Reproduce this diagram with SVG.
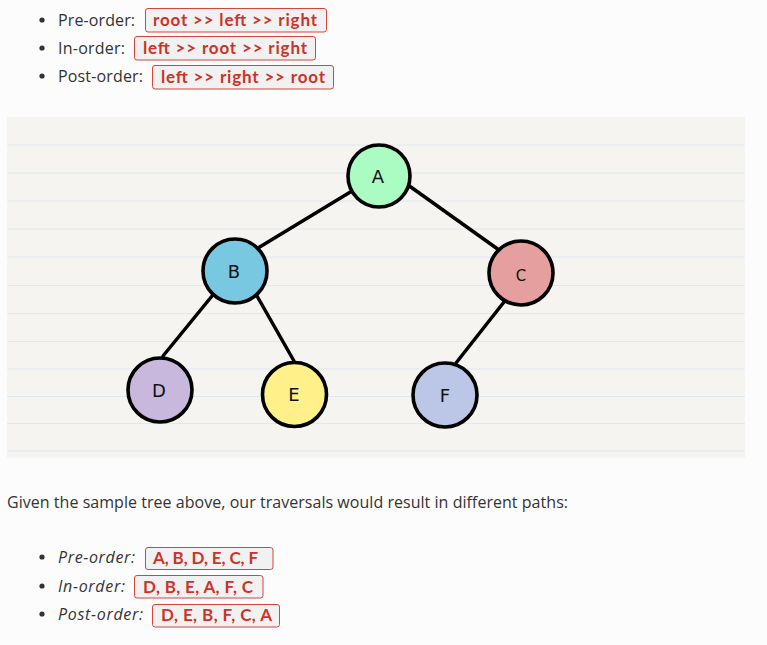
<svg xmlns="http://www.w3.org/2000/svg" width="767" height="645" viewBox="0 0 767 645">
<style>
.txt{font-family:"Open Sans","Noto Sans",sans-serif;font-size:16px;fill:#333333}
.it{font-style:italic}
.badge{fill:#f1f1f1;stroke:#d64538;stroke-width:1}
.code{font-family:Lato,"Open Sans",sans-serif;font-size:17px;font-weight:700;fill:#cf3128}
.bul{fill:#333333}
.rule{stroke:#dfe7ef;stroke-width:1.2}
.edge{stroke:#000000;stroke-width:3.5;stroke-linecap:round;fill:none}
.node{stroke:#000000;stroke-width:3.6}
.lbl{font-family:"DejaVu Sans",sans-serif;font-size:18px;fill:#111111;text-anchor:middle}
</style>
<rect x="0" y="0" width="767" height="645" fill="#fcfcfc"/>

<g id="list-top">
<circle class="bul" cx="42" cy="20" r="2.6"/>
<text class="txt" x="58" y="26" textLength="77">Pre-order:</text>
<rect class="badge" x="145.5" y="8.5" width="181" height="23.5" rx="2.5"/>
<text class="code" x="153" y="26" textLength="164">root &gt;&gt; left &gt;&gt; right</text>
<circle class="bul" cx="42" cy="48" r="2.6"/>
<text class="txt" x="58" y="54" textLength="67">In-order:</text>
<rect class="badge" x="134.5" y="36.5" width="181" height="23.5" rx="2.5"/>
<text class="code" x="143" y="54" textLength="164">left &gt;&gt; root &gt;&gt; right</text>
<circle class="bul" cx="42" cy="76" r="2.6"/>
<text class="txt" x="58" y="82" textLength="85">Post-order:</text>
<rect class="badge" x="152.5" y="65.5" width="181" height="23.5" rx="2.5"/>
<text class="code" x="161" y="83" textLength="164">left &gt;&gt; right &gt;&gt; root</text>
</g>

<g id="panel">
<rect x="7" y="117" width="738" height="341" fill="#f5f4f0"/>
<line class="rule" x1="7" y1="145" x2="745" y2="145"/>
<line class="rule" x1="7" y1="173" x2="745" y2="173"/>
<line class="rule" x1="7" y1="201" x2="745" y2="201"/>
<line class="rule" x1="7" y1="229" x2="745" y2="229"/>
<line class="rule" x1="7" y1="257" x2="745" y2="257"/>
<line class="rule" x1="7" y1="285.5" x2="745" y2="285.5"/>
<line class="rule" x1="7" y1="313.5" x2="745" y2="313.5"/>
<line class="rule" x1="7" y1="341.5" x2="745" y2="341.5"/>
<line class="rule" x1="7" y1="369" x2="745" y2="369"/>
<line class="rule" x1="7" y1="396.5" x2="745" y2="396.5"/>
<line class="rule" x1="7" y1="423.5" x2="745" y2="423.5"/>
<line class="rule" x1="7" y1="451" x2="745" y2="451"/>
</g>

<g id="connectors">
<line class="edge" x1="352" y1="191" x2="258" y2="248"/>
<line class="edge" x1="408" y1="185" x2="499" y2="250"/>
<line class="edge" x1="212" y1="296" x2="163" y2="356"/>
<line class="edge" x1="257" y1="296" x2="294" y2="361"/>
<line class="edge" x1="504" y1="302" x2="456" y2="363"/>
</g>

<g id="node-A"><circle class="node" cx="379" cy="176" r="31" fill="#aafcc2"/><text class="lbl" x="378" y="183">A</text></g>
<g id="node-B"><circle class="node" cx="235" cy="271" r="32" fill="#79c8e1"/><text class="lbl" x="234" y="278">B</text></g>
<g id="node-C"><circle class="node" cx="521" cy="273" r="32" fill="#e59f9f"/><text class="lbl" x="521" y="281" style="font-size:15px">C</text></g>
<g id="node-D"><circle class="node" cx="160" cy="390" r="32" fill="#c9b8de"/><text class="lbl" x="159" y="397">D</text></g>
<g id="node-E"><circle class="node" cx="294.5" cy="394.5" r="32" fill="#fff08a"/><text class="lbl" x="294" y="401">E</text></g>
<g id="node-F"><circle class="node" cx="445" cy="395" r="32" fill="#bcc7e7"/><text class="lbl" x="445" y="402">F</text></g>

<g id="paragraph">
<text class="txt" x="7" y="508" textLength="561">Given the sample tree above, our traversals would result in different paths:</text>
</g>

<g id="list-bottom">
<circle class="bul" cx="42" cy="557" r="2.6"/>
<text class="txt it" x="58" y="563" textLength="77">Pre-order:</text>
<rect class="badge" x="145.5" y="547.5" width="127.5" height="22" rx="2.5"/>
<text class="code" x="153" y="564" textLength="105">A, B, D, E, C, F</text>
<circle class="bul" cx="42" cy="586" r="2.6"/>
<text class="txt it" x="58" y="592" textLength="67">In-order:</text>
<rect class="badge" x="134.5" y="575.5" width="128.5" height="22.5" rx="2.5"/>
<text class="code" x="143" y="593" textLength="110">D, B, E, A, F, C</text>
<circle class="bul" cx="42" cy="614" r="2.6"/>
<text class="txt it" x="58" y="620" textLength="85">Post-order:</text>
<rect class="badge" x="152.5" y="604.5" width="127" height="22.5" rx="2.5"/>
<text class="code" x="161" y="621" textLength="111">D, E, B, F, C, A</text>
</g>
</svg>
